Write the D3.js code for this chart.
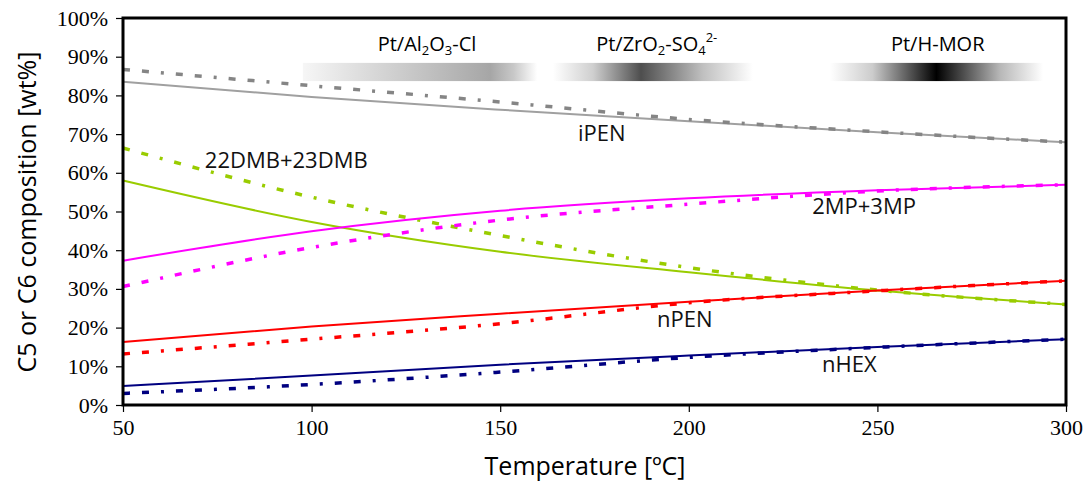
<!DOCTYPE html>
<html>
<head>
<meta charset="utf-8">
<script src="https://cdn.jsdelivr.net/npm/d3@7"></script>
<style>
  body { margin: 0; background: #fff; }
</style>
</head>
<body>
<script>
// data (wt%)
const temps = [50, 100, 150, 200, 250, 300];
const iPEN = [83.5, 79.6, 76.3, 73.3, 70.5, 67.9];
const iPENdash = [86.7, 82.5, 78.3, 73.8, 70.6, 67.9];
const DMB = [58, 47.3, 39.6, 34.3, 29.6, 26];
const DMBdash = [66.4, 53.7, 43.8, 35.5, 29.7, 26];
const MP = [37.3, 44.9, 50.2, 53.4, 55.5, 56.9];
const MPdash = [30.6, 40.7, 47.8, 51.9, 55.3, 56.9];
const nPEN = [16.3, 20.3, 23.6, 26.7, 29.6, 32.1];
const nPENdash = [13.2, 17, 21, 26.4, 29.5, 32.1];
const nHEX = [4.9, 7.6, 10.4, 12.8, 15.0, 17.0];
const nHEXdash = [3.0, 5.3, 8.5, 12.3, 14.9, 17.0];

const xTicks = [50, 100, 150, 200, 250, 300];
const yTicks = [0, 10, 20, 30, 40, 50, 60, 70, 80, 90, 100];

const series = [
  {vals: iPEN, color: "#a0a0a0", dash: false},
  {vals: iPENdash, color: "#858585", dash: true},
  {vals: DMB, color: "#99cc00", dash: false},
  {vals: DMBdash, color: "#99cc00", dash: true},
  {vals: MP, color: "#ff00ff", dash: false},
  {vals: MPdash, color: "#ff00ff", dash: true},
  {vals: nPEN, color: "#ff0000", dash: false},
  {vals: nPENdash, color: "#ff0000", dash: true},
  {vals: nHEX, color: "#000080", dash: false},
  {vals: nHEXdash, color: "#000080", dash: true}
];

const labels = [
  {text: "iPEN", t: 170.6, v: 68.2},
  {text: "22DMB+23DMB", t: 71.7, v: 61.2},
  {text: "2MP+3MP", t: 232.7, v: 49.4},
  {text: "nPEN", t: 191.6, v: 20.2},
  {text: "nHEX", t: 235.3, v: 8.5}
];

const W = 1086, H = 483;
const margin = {top: 18, right: 20, bottom: 78, left: 123};
const width = 1066 - margin.left, height = 405 - margin.top;

const svg = d3.select("body").append("svg")
  .attr("width", W).attr("height", H);

const defs = svg.append("defs");
function grad(id, stops) {
  const g = defs.append("linearGradient").attr("id", id)
    .attr("x1", "0%").attr("x2", "100%").attr("y1", "0%").attr("y2", "0%");
  stops.forEach(s => g.append("stop").attr("offset", s[0]).attr("stop-color", s[1]));
}
grad("g1", [[0, "#f6f6f6"], [0.8, "#a6a6a6"], [0.9, "#c8c8c8"], [1, "#ffffff"]]);
grad("g2", [[0, "#ffffff"], [0.2, "#cfcfcf"], [0.44, "#4e4e4e"], [0.75, "#c0c0c0"], [1, "#ffffff"]]);
grad("g3", [[0, "#ffffff"], [0.2, "#cccccc"], [0.5, "#000000"], [0.8, "#b8b8b8"], [1, "#ffffff"]]);

const g = svg.append("g").attr("transform", `translate(${margin.left},${margin.top})`);

const x = d3.scaleLinear().domain([50, 300]).range([0, width]);
const y = d3.scaleLinear().domain([0, 100]).range([height, 0]);

// catalyst bars
const bars = [
  {id: "g1", t0: 97.7, t1: 159.8},
  {id: "g2", t0: 164, t1: 217},
  {id: "g3", t0: 237.4, t1: 293.9}
];
g.selectAll(".bar").data(bars).enter().append("rect")
  .attr("x", d => x(d.t0)).attr("width", d => x(d.t1) - x(d.t0))
  .attr("y", y(88.4)).attr("height", y(83.7) - y(88.4))
  .attr("fill", d => `url(#${d.id})`);

const topFont = "'Open Sans', sans-serif";
const t1 = g.append("text").attr("x", x(130.6)).attr("y", y(91.5))
  .attr("text-anchor", "middle").style("font-family", topFont).style("font-size", "20px");
t1.append("tspan").text("Pt/Al");
t1.append("tspan").text("2").attr("font-size", "13px").attr("dy", 4);
t1.append("tspan").text("O").attr("dy", -4);
t1.append("tspan").text("3").attr("font-size", "13px").attr("dy", 4);
t1.append("tspan").text("-Cl").attr("dy", -4);

const t2 = g.append("text").attr("x", x(191.5)).attr("y", y(91.5))
  .attr("text-anchor", "middle").style("font-family", topFont).style("font-size", "20px");
t2.append("tspan").text("Pt/ZrO");
t2.append("tspan").text("2").attr("font-size", "13px").attr("dy", 4);
t2.append("tspan").text("-SO").attr("dy", -4);
t2.append("tspan").text("4").attr("font-size", "13px").attr("dy", 4);
t2.append("tspan").text("2-").attr("font-size", "13px").attr("dy", -13);

g.append("text").attr("x", x(266)).attr("y", y(91.5))
  .attr("text-anchor", "middle").style("font-family", topFont).style("font-size", "20px")
  .text("Pt/H-MOR");

// lines
const line = d3.line()
  .curve(d3.curveMonotoneX)
  .x((d, i) => x(temps[i]))
  .y(d => y(d));

g.selectAll(".series").data(series).enter().append("path")
  .attr("d", d => line(d.vals))
  .attr("fill", "none")
  .attr("stroke", d => d.color)
  .attr("stroke-width", d => d.dash ? 3.5 : 2)
  .attr("stroke-dasharray", d => d.dash ? "7,12,7,12,3,12" : null);

// series labels
g.selectAll(".lab").data(labels).enter().append("text")
  .attr("x", d => x(d.t)).attr("y", d => y(d.v))
  .style("font-family", topFont).style("font-size", "22px").style("fill", "#111")
  .text(d => d.text);

// axes
const serif = "'Liberation Serif', 'Times New Roman', serif";
const xAxis = g.append("g").attr("transform", `translate(0,${height})`)
  .call(d3.axisBottom(x).tickValues(xTicks).tickSize(7).tickPadding(7));
const yAxis = g.append("g")
  .call(d3.axisLeft(y).tickValues(yTicks).tickSize(7).tickPadding(8).tickFormat(d => d + "%"));
[xAxis, yAxis].forEach(a => {
  a.select(".domain").remove();
  a.selectAll("line").attr("stroke", "#000").attr("stroke-width", 1.2);
  a.selectAll("text").style("font-family", serif).style("font-size", "22px").attr("fill", "#000");
});

// frame
g.append("rect").attr("width", width).attr("height", height)
  .attr("fill", "none").attr("stroke", "#000").attr("stroke-width", 3);

// axis titles
svg.append("text").attr("x", 585).attr("y", 475).attr("text-anchor", "middle")
  .style("font-family", topFont).style("font-size", "25px").text("Temperature [ºC]");
svg.append("text").attr("transform", "translate(36,212) rotate(-90)").attr("text-anchor", "middle")
  .style("font-family", topFont).style("font-size", "25px").text("C5 or C6 composition [wt%]");
</script>
</body>
</html>
